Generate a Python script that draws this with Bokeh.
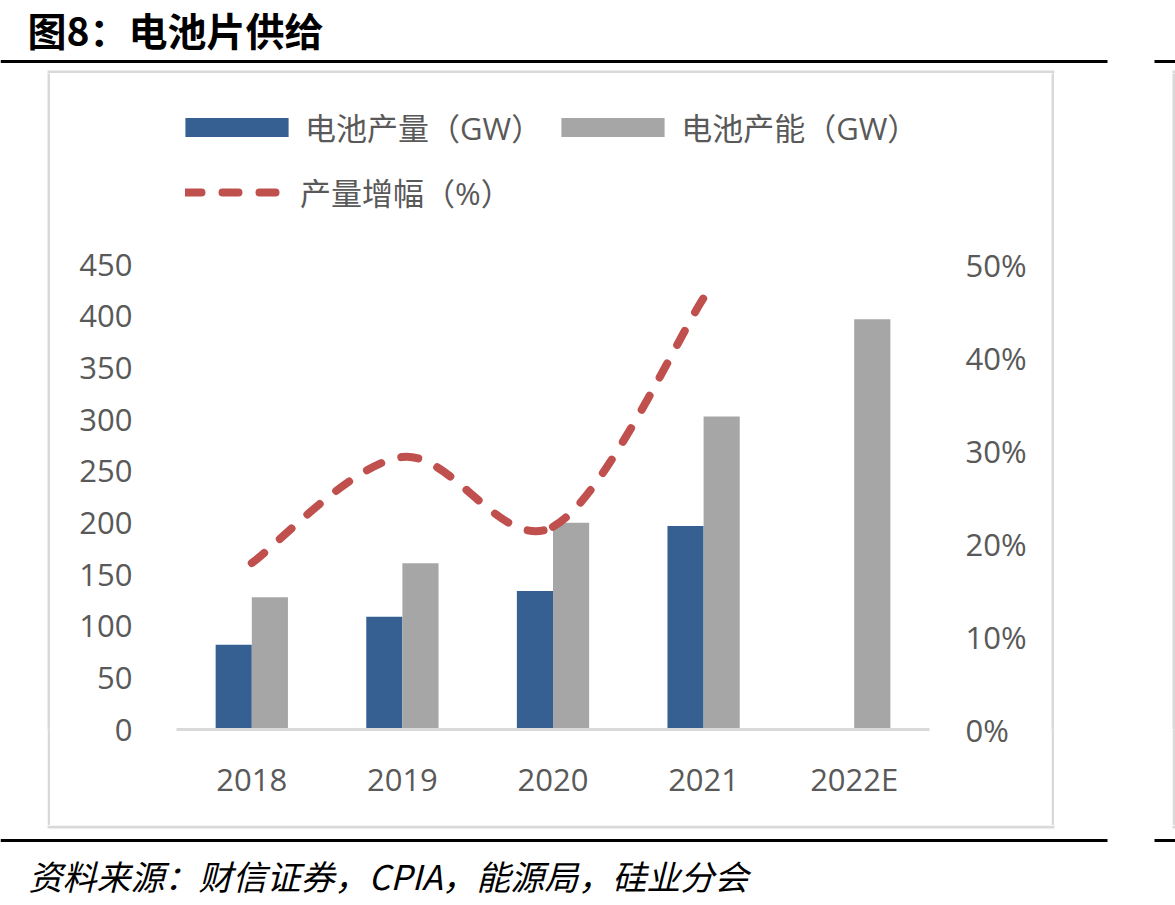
import numpy as np
from bokeh.plotting import figure
from bokeh.layouts import column, row
from bokeh.models import (Range1d, LinearAxis, FixedTicker, NumeralTickFormatter,
                          Legend, LegendItem, ColumnDataSource, Spacer)
from bokeh.transform import dodge
from bokeh.embed import file_html
from bokeh.resources import INLINE
from bokeh.core.properties import value

# ---------------- data ----------------
years = ["2018", "2019", "2020", "2021", "2022E"]
production_gw = [82, 109, 134, 197, float("nan")]
capacity_gw = [128, 161, 200, 303, 397]
growth_years = ["2018", "2019", "2020", "2021"]
growth_pct = [0.179, 0.293, 0.218, 0.464]
left_ticks = [0, 50, 100, 150, 200, 250, 300, 350, 400, 450]
right_ticks = [0.0, 0.1, 0.2, 0.3, 0.4, 0.5]
legend_labels = ["电池产量（GW）", "电池产能（GW）", "产量增幅（%）"]
title_text = "图8：电池片供给"
source_text = "资料来源：财信证券，CPIA，能源局，硅业分会"

# ---------------- layout constants (canvas pixels) ----------------
W, H = 1175, 905
HEAD_H, FOOT_Y = 73, 825            # head strip 0..73, body 73..825, foot 825..905
LEFT_W, CHART_R = 60, 1040          # chart figure spans 60..1040
FL, FR, FB = 176, 929, 729          # plot frame edges (canvas)
BODY_H = FOOT_Y - HEAD_H
PX_PER_UNIT = 465 / 450.0
PX_PER_PCT = 465 / 0.5
BLUE = "#376092"
GREY = "#a6a6a6"
RED = "#c0504d"
TXT = "#595959"
BOX = "#d9d9d9"
FONT = "'Open Sans', 'Noto Sans CJK SC'"
CJK = "'Noto Sans CJK SC'"


def strip(x0, x1, y0, y1):
    """A plain figure whose data coordinates are canvas pixels (y downward)."""
    f = figure(width=x1 - x0, height=y1 - y0, x_range=Range1d(x0, x1),
               y_range=Range1d(y1, y0), output_backend="svg", toolbar_location=None,
               min_border=0, x_axis_location=None, y_axis_location=None, title=None)
    f.xgrid.visible = False
    f.ygrid.visible = False
    f.outline_line_color = None
    f.background_fill_color = "white"
    f.border_fill_color = "white"
    return f


def edge(w, h, color):
    """A solid vertical rule: a tiny empty figure filled with one colour."""
    f = figure(width=w, height=h, x_range=Range1d(0, 1), y_range=Range1d(0, 1),
               output_backend="svg", toolbar_location=None, min_border=0,
               x_axis_location=None, y_axis_location=None, title=None)
    f.xgrid.visible = False
    f.ygrid.visible = False
    f.outline_line_color = None
    f.background_fill_color = color
    f.border_fill_color = color
    return f


# ---------------- head: title, rule, top edge of the chart box ----------------
head = strip(0, W, 0, HEAD_H)
head.text(x=[27], y=[28], text=[title_text], text_font=value(CJK), text_font_size="39px",
          text_font_style="bold", text_color="black", text_baseline="middle", text_align="left")
head.quad(left=[0, 1154], right=[1107, W], top=[59.5, 59.5], bottom=[62.5, 62.5],
          fill_color="black", line_color=None)
head.quad(left=[47, 1172], right=[1054, W], top=[70, 70], bottom=[73, 73],
          fill_color=BOX, line_color=None)

# ---------------- foot: bottom edge, rule, source ----------------
foot = strip(0, W, FOOT_Y, H)
foot.quad(left=[47, 1172], right=[1054, W], top=[FOOT_Y, FOOT_Y], bottom=[828, 828],
          fill_color=BOX, line_color=None)
foot.quad(left=[0, 1154], right=[1107, W], top=[838.5, 838.5], bottom=[841.5, 841.5],
          fill_color="black", line_color=None)
foot.text(x=[28], y=[875], text=[source_text], text_font=value(CJK), text_font_size="34px",
          text_font_style="italic", text_color="black", text_baseline="middle", text_align="left")

# ---------------- chart ----------------
xpos = [i + 0.5 for i in range(len(years))]
frame_h = FB - HEAD_H
p = figure(width=CHART_R - LEFT_W, height=BODY_H,
           x_range=Range1d(0, len(years)),
           y_range=Range1d(0, frame_h / PX_PER_UNIT),
           output_backend="svg", toolbar_location=None,
           min_border_left=FL - LEFT_W, min_border_right=CHART_R - FR,
           min_border_top=0, min_border_bottom=FOOT_Y - FB,
           title=None)
p.extra_y_ranges = {"pct": Range1d(0, frame_h / PX_PER_PCT)}
p.xgrid.visible = False
p.ygrid.visible = False
p.outline_line_color = None
p.background_fill_color = "white"
p.border_fill_color = "white"

ya = p.yaxis[0]
ya.ticker = FixedTicker(ticks=left_ticks)
ya.major_label_standoff = 44

ra = LinearAxis(y_range_name="pct", ticker=FixedTicker(ticks=right_ticks),
                formatter=NumeralTickFormatter(format="0%"))
ra.major_label_standoff = 36
p.add_layout(ra, "right")

xa = p.xaxis[0]
xa.ticker = FixedTicker(ticks=xpos)
xa.major_label_overrides = {x: y for x, y in zip(xpos, years)}
xa.major_label_standoff = 28

for ax in (ya, ra):
    ax.axis_line_color = None
for ax in (ya, ra, xa):
    ax.major_tick_line_color = None
    ax.minor_tick_line_color = None
    ax.major_tick_out = 0
    ax.major_tick_in = 0
    ax.major_label_text_font = "Open Sans"
    ax.major_label_text_font_size = "31px"
    ax.major_label_text_color = TXT
xa.axis_line_color = BOX
xa.axis_line_width = 3

src = ColumnDataSource(dict(x=xpos, year=years, prod=production_gw, cap=capacity_gw))
b1 = p.vbar(x=dodge("x", -0.12), top="prod", width=0.24,
            source=src, fill_color=BLUE, line_color=None)
b2 = p.vbar(x=dodge("x", 0.12), top="cap", width=0.24,
            source=src, fill_color=GREY, line_color=None)

# smoothed growth line: cubic Bezier segments through the data points
gx = [xpos[years.index(y)] for y in growth_years]
gy = growth_pct
n = len(gx)
seg = {k: [] for k in ("x0", "y0", "x1", "y1", "cx0", "cy0", "cx1", "cy1")}
for i in range(n - 1):
    im1, ip2 = max(i - 1, 0), min(i + 2, n - 1)
    seg["x0"].append(gx[i]); seg["y0"].append(gy[i])
    seg["x1"].append(gx[i + 1]); seg["y1"].append(gy[i + 1])
    seg["cx0"].append(gx[i] + (gx[i + 1] - gx[im1]) / 6.0)
    seg["cy0"].append(gy[i] + (gy[i + 1] - gy[im1]) / 6.0)
    seg["cx1"].append(gx[i + 1] - (gx[ip2] - gx[i]) / 6.0)
    seg["cy1"].append(gy[i + 1] - (gy[ip2] - gy[i]) / 6.0)
bz = p.bezier(**seg, y_range_name="pct", line_color=RED, line_width=8,
              line_dash="16 21", line_cap="round")

leg_common = dict(padding=0, margin=0, border_line_color=None, background_fill_alpha=0,
                  label_text_font=FONT, label_text_font_size="31px",
                  label_text_color=TXT, glyph_height=24, label_height=24)
leg1 = Legend(items=[LegendItem(label=value(legend_labels[0]), renderers=[b1]),
                     LegendItem(label=value(legend_labels[1]), renderers=[b2])],
              orientation="horizontal", location=(-4, FB - 130 - 19),
              glyph_width=129, label_standoff=4, spacing=6, **leg_common)
leg2 = Legend(items=[LegendItem(label=value(legend_labels[2]), renderers=[bz])],
              orientation="horizontal", location=(9, FB - 195 - 19),
              glyph_width=96, label_standoff=19, spacing=10, **leg_common)
p.add_layout(leg1)
p.add_layout(leg2)

# body row: box left edge | chart | box right edge | neighbouring panel edge
body = row(Spacer(width=47, height=BODY_H), edge(3, BODY_H, BOX),
           Spacer(width=LEFT_W - 50, height=BODY_H), p,
           Spacer(width=1051 - CHART_R, height=BODY_H), edge(3, BODY_H, BOX),
           Spacer(width=1172 - 1054, height=BODY_H), edge(3, BODY_H, BOX))

layout = column(head, body, foot)
open("out.html", "w").write(file_html(layout, INLINE))
